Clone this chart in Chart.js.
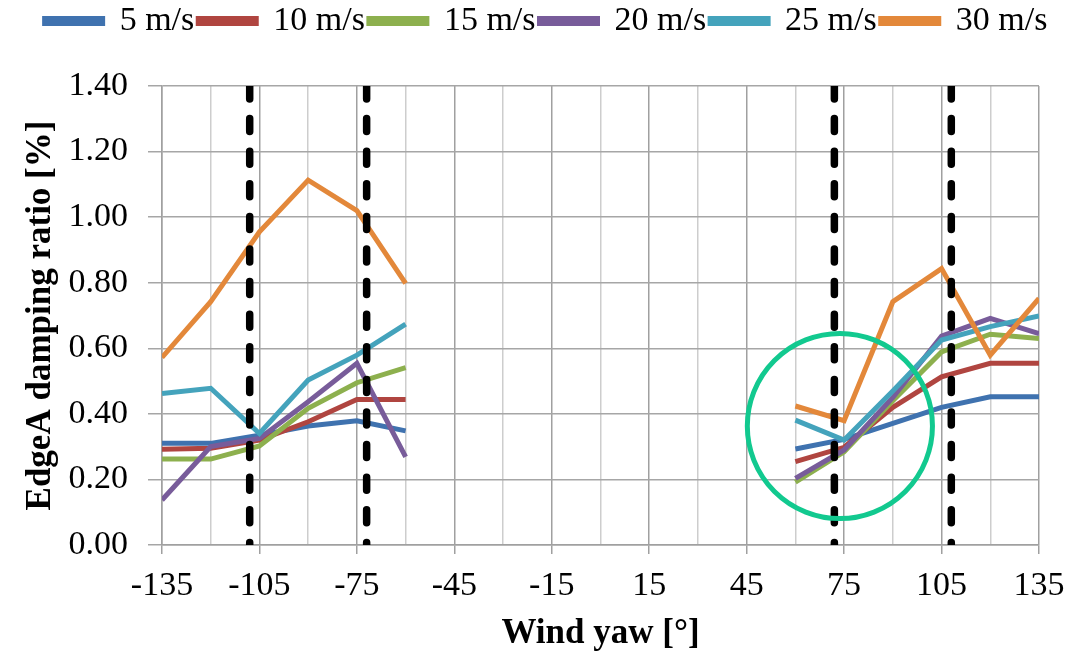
<!DOCTYPE html>
<html>
<head>
<meta charset="utf-8">
<script src="https://cdn.jsdelivr.net/npm/chart.js@4/dist/chart.umd.min.js"></script>
<style>
  html, body { margin: 0; padding: 0; background: #fff; }
  #wrap { width: 1092px; height: 657px; }
</style>
</head>
<body>
<div id="wrap"><canvas id="yawChart"></canvas></div>
<script>
// yaw angles (deg) of the two measured sectors
const yawLeft = [-135, -120, -105, -90, -75, -60];
const yawRight = [60, 75, 90, 105, 120, 135];

const seriesNames = ['5 m/s', '10 m/s', '15 m/s', '20 m/s', '25 m/s', '30 m/s'];
const seriesColors = ['#3F72AF', '#B04540', '#8DB04E', '#785C9A', '#44A3BC', '#E3883A'];

// damping ratio [%], left sector then right sector
const v5Left  = [0.31, 0.31, 0.335, 0.363, 0.379, 0.348];
const v5Right = [0.293, 0.322, 0.371, 0.42, 0.452, 0.452];
const v10Left  = [0.292, 0.295, 0.32, 0.376, 0.444, 0.444];
const v10Right = [0.254, 0.298, 0.42, 0.513, 0.554, 0.554];
const v15Left  = [0.262, 0.262, 0.302, 0.417, 0.495, 0.541];
const v15Right = [0.192, 0.284, 0.44, 0.589, 0.643, 0.63];
const v20Left  = [0.137, 0.30, 0.325, 0.437, 0.554, 0.269];
const v20Right = [0.203, 0.29, 0.45, 0.637, 0.691, 0.645];
const v25Left  = [0.462, 0.478, 0.34, 0.503, 0.579, 0.674];
const v25Right = [0.381, 0.32, 0.47, 0.625, 0.666, 0.699];
const v30Left  = [0.572, 0.742, 0.955, 1.113, 1.02, 0.798];
const v30Right = [0.424, 0.379, 0.742, 0.843, 0.579, 0.752];

const leftValues = [v5Left, v10Left, v15Left, v20Left, v25Left, v30Left];
const rightValues = [v5Right, v10Right, v15Right, v20Right, v25Right, v30Right];

// vertical marker lines
const markerYaws = [-108, -72, 72, 108];

// axis ticks
const xMin = -135, xMax = 135, xStep = 15, xLabelStep = 30;
const yMin = 0, yMax = 1.4, yStep = 0.2;

// highlighted region (circle)
const circleYaw = 73.7, circleRatio = 0.363, circleRadiusDeg = 28.5;

const datasets = [];
seriesNames.forEach((name, i) => {
    const pts = [];
    yawLeft.forEach((x, j) => pts.push({ x: x, y: leftValues[i][j] }));
    pts.push({ x: 0, y: null });   // gap between sectors
    yawRight.forEach((x, j) => pts.push({ x: x, y: rightValues[i][j] }));
    datasets.push({
        label: name,
        data: pts,
        borderColor: seriesColors[i],
        backgroundColor: seriesColors[i],
        borderWidth: 5,
        pointRadius: 0,
        tension: 0,
        spanGaps: false,
        order: 10 - i
    });
});
markerYaws.forEach(x => {
    datasets.push({
        label: 'marker',
        data: [{ x: x, y: yMax }, { x: x, y: yMin }],
        borderColor: '#000',
        backgroundColor: '#000',
        borderWidth: 7.5,
        borderDash: [13, 19.6],
        borderCapStyle: 'round',
        pointRadius: 0,
        order: 0
    });
});

const circlePlugin = {
    id: 'circle',
    afterDatasetsDraw(chart) {
        const { ctx, scales } = chart;
        const cx = scales.x.getPixelForValue(circleYaw);
        const cy = scales.y.getPixelForValue(circleRatio);
        const r = scales.x.getPixelForValue(circleYaw + circleRadiusDeg) - cx;
        ctx.save();
        ctx.beginPath();
        ctx.arc(cx, cy, r, 0, Math.PI * 2);
        ctx.lineWidth = 5;
        ctx.strokeStyle = '#12C98F';
        ctx.stroke();
        ctx.restore();
    }
};

// legend: fixed height, centred across the full canvas width
const legendBox = {
    id: 'legendBox',
    beforeInit(chart) {
        const fit = chart.legend.fit;
        chart.legend.fit = function () {
            fit.bind(chart.legend)();
            this.height = 86;
        };
    },
    afterLayout(chart) {
        chart.legend.left = 0;
        chart.legend.right = chart.width;
        chart.legend.width = chart.width;
    }
};

const serif = "'Liberation Serif', 'Times New Roman', serif";

new Chart(document.getElementById('yawChart'), {
    type: 'line',
    data: { datasets: datasets },
    options: {
        responsive: true,
        maintainAspectRatio: false,
        animation: false,
        layout: { padding: { left: 0, right: 53, top: 0, bottom: 2 } },
        plugins: {
            tooltip: { enabled: false },
            legend: {
                position: 'top',
                labels: {
                    boxWidth: 58,
                    boxHeight: 5,
                    padding: 4,
                    color: '#000',
                    font: { family: serif, size: 34 },
                    filter: item => item.text !== 'marker',
                    sort: (a, b) => a.datasetIndex - b.datasetIndex
                }
            }
        },
        scales: {
            x: {
                type: 'linear',
                min: xMin,
                max: xMax,
                afterFit(scale) { scale.height = 110; },
                ticks: {
                    stepSize: xStep,
                    autoSkip: false,
                    maxRotation: 0,
                    padding: 12,
                    color: '#000',
                    font: { family: serif, size: 34 },
                    callback: v => ((v - xMin) % xLabelStep === 0 ? String(v) : '')
                },
                grid: {
                    color: c => ((c.tick && (c.tick.value - xMin) % xLabelStep === 0) ? '#a0a0a0' : '#cdcdcd'),
                    tickColor: c => ((c.tick && (c.tick.value - xMin) % xLabelStep === 0) ? '#a0a0a0' : 'rgba(0,0,0,0)'),
                    lineWidth: 1.5,
                    tickLength: 9
                },
                border: { color: '#a0a0a0', width: 1.5 },
                title: {
                    display: true,
                    text: 'Wind yaw [°]',
                    color: '#000',
                    font: { family: serif, size: 35, weight: 'bold' },
                    padding: { top: 0, bottom: 0 }
                }
            },
            y: {
                min: yMin,
                max: yMax,
                afterFit(scale) { scale.width = 162; },
                ticks: {
                    stepSize: yStep,
                    padding: 20,
                    color: '#000',
                    font: { family: serif, size: 34 },
                    callback: v => v.toFixed(2)
                },
                grid: {
                    color: '#a6a6a6',
                    lineWidth: 1.5,
                    tickLength: 14
                },
                border: { color: '#a0a0a0', width: 1.5 },
                title: {
                    display: true,
                    text: 'EdgeA damping ratio [%]',
                    color: '#000',
                    font: { family: serif, size: 35, weight: 'bold' },
                    padding: { top: 20, bottom: 0 }
                }
            }
        }
    },
    plugins: [circlePlugin, legendBox]
});
</script>
</body>
</html>
